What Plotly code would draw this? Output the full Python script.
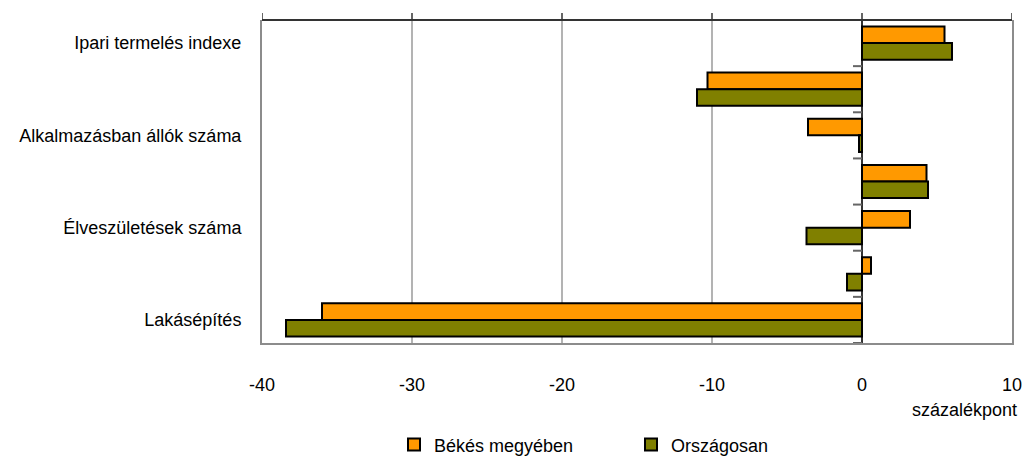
import plotly.graph_objects as go

categories = ["Ipari termelés indexe", "", "Alkalmazásban állók száma", "",
              "Élveszületések száma", "", "Lakásépítés"]
bekes = [5.5, -10.3, -3.6, 4.3, 3.2, 0.6, -36.0]
orszagos = [6.0, -11.0, -0.2, 4.4, -3.7, -1.0, -38.4]
series_names = ["Békés megyében", "Országosan"]
x_ticks = [-40, -30, -20, -10, 0, 10]
x_tick_text = ["-40", "-30", "-20", "-10", "0", "10"]
x_unit = "százalékpont"

pos = list(range(len(categories)))
FONT = "Liberation Sans, Arial, sans-serif"
FS = 18

fig = go.Figure()
fig.add_trace(go.Bar(y=pos, x=bekes, orientation="h", name=series_names[0],
                     marker=dict(color="#FF9900", line=dict(color="#000000", width=2))))
fig.add_trace(go.Bar(y=pos, x=orszagos, orientation="h", name=series_names[1],
                     marker=dict(color="#808000", line=dict(color="#000000", width=2))))

shapes = []
# category boundary ticks on the zero axis
for k in range(len(categories)):
    shapes.append(dict(type="line", xref="x", yref="y", x0=-0.6, x1=0,
                       y0=k + 0.5, y1=k + 0.5, line=dict(color="#666666", width=2)))
# dark top axis line with outward ticks
shapes.append(dict(type="line", xref="paper", yref="paper", x0=0, x1=1, y0=1, y1=1,
                   line=dict(color="#333333", width=2), layer="above"))
for t in x_ticks:
    shapes.append(dict(type="line", xref="x", yref="paper", ysizemode="pixel", yanchor=1,
                       x0=t, x1=t, y0=0, y1=7, line=dict(color="#333333", width=1.5)))

lab_vals = [i for i, c in enumerate(categories) if c]
lab_text = [c for c in categories if c]

fig.update_layout(
    width=1022, height=462,
    margin=dict(l=262, r=10, t=20, b=119, autoexpand=False),
    paper_bgcolor="white", plot_bgcolor="white",
    font=dict(family=FONT, size=FS, color="#000000"),
    barmode="group", bargap=0.28, bargroupgap=0,
    showlegend=True,
    legend=dict(orientation="h", x=0.176, xanchor="left", xref="paper",
                y=0.037, yref="container", yanchor="middle",
                entrywidth=192, entrywidthmode="pixels",
                font=dict(family=FONT, size=FS), traceorder="normal"),
    xaxis=dict(range=[x_ticks[0], x_ticks[-1]], tickvals=x_ticks, ticktext=x_tick_text,
               showgrid=True, gridcolor="#b3b3b3", gridwidth=1.5,
               zeroline=True, zerolinecolor="#333333", zerolinewidth=2,
               showline=True, linecolor="#8c8c8c", linewidth=2,
               ticks="", ticklabelstandoff=24, ticklabeloverflow="allow"),
    yaxis=dict(range=[len(categories) - 0.5, -0.5], tickvals=lab_vals, ticktext=lab_text,
               showgrid=False, zeroline=False, showline=True, mirror=True,
               linecolor="#8c8c8c", linewidth=2, ticks="", ticklabelstandoff=15),
    shapes=shapes,
    annotations=[dict(text=x_unit, xref="paper", yref="paper", x=1, y=-0.207,
                      xanchor="right", yanchor="middle", xshift=7, showarrow=False,
                      font=dict(family=FONT, size=FS))],
)

fig.write_html("out.html", config={"displayModeBar": False},
               post_script="document.body.style.margin='0';")
